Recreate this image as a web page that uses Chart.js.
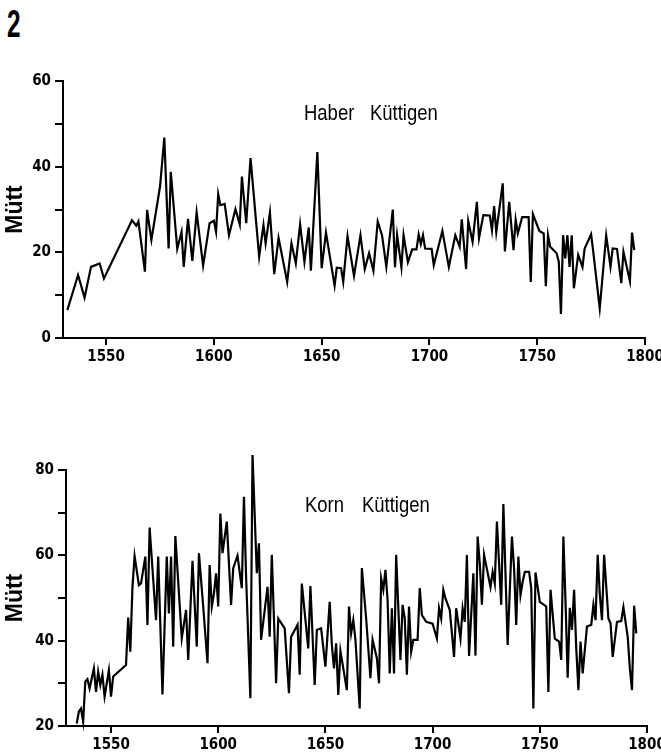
<!DOCTYPE html>
<html>
<head>
  <title>Haber und Korn Küttigen</title>
  <script src="https://cdn.jsdelivr.net/npm/chart.js"></script>
  <style>
    body { margin: 0; background: #fff; width: 661px; height: 755px; position: relative; overflow: hidden; font-family: 'Liberation Sans', Arial, sans-serif; }
    canvas { position: absolute; left: 0; }
    .txt { position: absolute; color: #000; line-height: 1; white-space: nowrap; transform-origin: left top; }
    .fig { font-size: 38px; font-weight: bold; transform: scaleX(0.64); }
    .head { font-size: 22px; transform: scaleX(0.84); }
  </style>
</head>
<body>
  <div class="txt fig" style="left:7px; top:5px;">2</div>

  <canvas id="haberChart" width="661" height="330" style="top:50px;"></canvas>
  <div class="txt head" style="left:304px; top:102px;">Haber</div>
  <div class="txt head" style="left:370px; top:102px;">Küttigen</div>

  <canvas id="kornChart" width="661" height="315" style="top:440px;"></canvas>
  <div class="txt head" style="left:305px; top:494px;">Korn</div>
  <div class="txt head" style="left:362px; top:494px;">Küttigen</div>

  <script>
    // --- Haber (oats), Küttigen ---
    const haberYears = [
      1532, 1537, 1540, 1543, 1547, 1549, 1562, 1564, 1565, 1568, 1569, 1571, 1575, 1577, 1579, 1580,
      1583, 1585, 1586, 1588, 1590, 1592, 1595, 1598, 1600, 1601, 1602, 1603, 1605, 1607, 1610, 1612,
      1613, 1615, 1617, 1621, 1623, 1624, 1626, 1628, 1630, 1634, 1636, 1638, 1640, 1642, 1644, 1645,
      1648, 1650, 1652, 1656, 1657, 1659, 1660, 1662, 1665, 1668, 1670, 1672, 1674, 1676, 1678, 1680,
      1683, 1684, 1685, 1687, 1688, 1690, 1692, 1694, 1695, 1696, 1697, 1698, 1701, 1702, 1706, 1709,
      1712, 1714, 1715, 1717, 1718, 1720, 1722, 1723, 1725, 1728, 1729, 1730, 1731, 1734, 1735, 1737,
      1739, 1740, 1741, 1743, 1746, 1747, 1748, 1751, 1753, 1754, 1755, 1756, 1759, 1760, 1761, 1762,
      1763, 1764, 1765, 1766, 1767, 1769, 1771, 1772, 1775, 1776, 1779, 1782, 1784, 1785, 1787, 1789,
      1790, 1793, 1794, 1795
    ];
    const haberValues = [
      6.5, 14.7, 9.4, 16.6, 17.4, 13.9, 27.5, 26.2, 27.2, 15.5, 29.9, 22.9, 35.3, 46.8, 20.9, 38.8,
      20.8, 24.8, 16.6, 27.8, 18, 29.3, 16.9, 26.8, 27.4, 24.8, 33.6, 31, 31.3, 24, 30.1, 26.5,
      37.7, 26.8, 42, 19, 26.4, 22.1, 29.3, 14.9, 23.4, 13.1, 22.1, 17.4, 26.6, 17.8, 25.8, 15.7,
      43.4, 16.3, 24.6, 12.2, 16.4, 16.3, 13.1, 23.8, 14.5, 24, 16.1, 19.8, 15.7, 27.2, 24, 16.6,
      30, 16.5, 24, 16.5, 24, 17.7, 20.7, 20.7, 24.2, 21.9, 24, 20.9, 20.8, 17, 25, 16.6,
      24, 21.3, 27.7, 16.1, 27.3, 22.5, 31.8, 23.3, 28.7, 28.6, 25.2, 30.8, 24.7, 36.1, 20.2, 31.8,
      20.5, 27.6, 24.4, 28.2, 28.2, 13.1, 28.9, 25, 24.4, 12.1, 24, 21.3, 19.8, 17.8, 5.6, 24,
      18.6, 24, 16.6, 24, 11.6, 19.4, 16.6, 20.9, 24.2, 20.1, 6.9, 23.9, 16.6, 20.9, 20.8, 12.8,
      20.1, 13.3, 24.6, 20.5
    ];

    // --- Korn (spelt), Küttigen ---
    const kornYears = [
      1534, 1535, 1536, 1537, 1538, 1539, 1540, 1542, 1543, 1544, 1545, 1546, 1547, 1549, 1550, 1551,
      1557, 1558, 1559, 1560, 1561, 1563, 1564, 1566, 1567, 1568, 1571, 1572, 1574, 1576, 1577, 1578,
      1579, 1580, 1583, 1585, 1586, 1588, 1590, 1591, 1593, 1595, 1596, 1597, 1598, 1599, 1600, 1601,
      1602, 1604, 1606, 1607, 1609, 1611, 1612, 1613, 1615, 1616, 1618, 1619, 1620, 1623, 1624, 1625,
      1627, 1628, 1631, 1633, 1634, 1637, 1638, 1639, 1642, 1643, 1645, 1646, 1648, 1650, 1652, 1653,
      1654, 1655, 1656, 1657, 1660, 1661, 1662, 1663, 1664, 1666, 1667, 1669, 1671, 1672, 1674, 1675,
      1676, 1677, 1678, 1679, 1680, 1681, 1682, 1683, 1685, 1686, 1687, 1688, 1689, 1690, 1691, 1693,
      1694, 1695, 1697, 1700, 1702, 1703, 1704, 1705, 1706, 1708, 1710, 1711, 1713, 1714, 1715, 1716,
      1717, 1719, 1720, 1721, 1722, 1723, 1724, 1727, 1728, 1729, 1730, 1732, 1733, 1735, 1737, 1738,
      1739, 1740, 1741, 1742, 1743, 1745, 1746, 1747, 1748, 1750, 1752, 1753, 1754, 1755, 1757, 1759,
      1760, 1761, 1762, 1763, 1764, 1765, 1766, 1767, 1768, 1769, 1770, 1772, 1774, 1775, 1776, 1777,
      1778, 1779, 1780, 1782, 1783, 1784, 1786, 1788, 1789, 1791, 1792, 1793, 1794, 1795
    ];
    const kornValues = [
      20.6, 23.4, 24.1, 21, 30.4, 31, 28.8, 33.5, 28, 32.7, 29.6, 32, 26.9, 33.1, 26.9, 31.6,
      34.3, 45.4, 37.4, 52.6, 59.8, 53, 53.4, 59.7, 43.7, 66.5, 44.8, 59.7, 27.4, 59.7, 46.4, 59.7,
      38.6, 64.5, 40.6, 47.2, 35.5, 58.7, 38.6, 60.5, 48, 34.7, 57.7, 48, 51, 55.8, 48, 69.8,
      60.5, 67.9, 48.4, 57, 59.9, 52.3, 73.7, 55, 26.5, 83.5, 55.8, 62.8, 40.2, 52.6, 40.9, 60.1,
      30, 45.2, 42.9, 27.7, 40.9, 43.7, 32, 53.4, 38.2, 52.8, 29.6, 42.5, 42.9, 33.9, 49.1, 39,
      33.5, 39.4, 27.3, 37.6, 28.4, 48, 41.7, 44.8, 40.2, 24.1, 57, 45.2, 31.2, 40.2, 35.9, 30,
      54.6, 51.9, 56.6, 49.5, 32.3, 47.6, 32.3, 60.1, 35.5, 48.4, 45.2, 32, 48, 37.4, 40.2, 40.2,
      52.3, 46, 44.4, 44, 40.5, 47.6, 45.2, 51.9, 49.9, 47.2, 36.2, 47.6, 40.5, 47.6, 44.4, 60.1,
      36.4, 55.8, 36.5, 64.4, 58.1, 48.4, 60.1, 52.6, 56.1, 53.4, 67.9, 48.4, 72, 39, 64.4, 57,
      43.7, 59.7, 50.7, 53.8, 56.1, 56.1, 52.3, 24.1, 56, 49.1, 48.4, 48, 28, 51.9, 40.5, 39.8,
      35.5, 64.4, 49.1, 31.3, 47.7, 42.5, 51.9, 38.2, 28.4, 39.8, 32.3, 43.3, 43.7, 48.4, 44.8, 60.1,
      50.7, 44.8, 60.1, 45.2, 44.1, 36.2, 44.4, 44.6, 47.8, 40.9, 33.5, 28.4, 48.2, 41.7
    ];

    // --- Axis ticks ---
    const yearTicks = [1550, 1600, 1650, 1700, 1750, 1800];
    const haberTicks = [0, 10, 20, 30, 40, 50, 60];
    const haberLabels = [0, 20, 40, 60];
    const kornTicks = [20, 30, 40, 50, 60, 70, 80];
    const kornLabels = [20, 40, 60, 80];

    const tickFont = { family: "'Liberation Sans Narrow', 'DejaVu Sans Condensed', 'Liberation Sans', sans-serif", size: 15, weight: 'bold' };
    const titleFont = { family: "'Liberation Sans', Arial, sans-serif", size: 23, weight: 'bold' };

    function makeChart(id, years, values, o) {
      const points = years.map((y, i) => ({ x: y, y: values[i] }));
      return new Chart(document.getElementById(id), {
        type: 'line',
        data: {
          datasets: [{
            data: points,
            borderColor: '#000',
            borderWidth: 2.2,
            pointRadius: 0,
            tension: 0,
            fill: false,
            clip: false
          }]
        },
        options: {
          responsive: false,
          animation: false,
          layout: { padding: { top: o.padTop, right: o.padRight, left: 0, bottom: 0 } },
          plugins: { legend: { display: false }, tooltip: { enabled: false } },
          scales: {
            x: {
              type: 'linear',
              min: o.xMin,
              max: 1800,
              afterBuildTicks: s => { s.ticks = yearTicks.map(v => ({ value: v })); },
              afterFit: s => { s.height = o.xHeight; s.paddingLeft = 0; s.paddingRight = 0; },
              border: { color: '#000', width: 2 },
              grid: { drawOnChartArea: false, drawTicks: true, tickLength: 7, color: '#000', lineWidth: 2 },
              ticks: { color: '#000', font: tickFont, padding: 3, maxRotation: 0, autoSkip: false, callback: v => String(v) }
            },
            y: {
              type: 'linear',
              min: o.yMin,
              max: o.yMax,
              afterBuildTicks: s => { s.ticks = o.yTicks.map(v => ({ value: v })); },
              afterFit: s => { s.width = o.yWidth; s.paddingTop = 0; s.paddingBottom = 0; },
              border: { color: '#000', width: 2 },
              grid: { drawOnChartArea: false, drawTicks: true, tickLength: 8, color: '#000', lineWidth: 2 },
              ticks: {
                color: '#000', font: tickFont, padding: 4, autoSkip: false,
                callback: v => o.yLabels.includes(v) ? String(v) : ''
              },
              title: { display: true, text: 'Mütt', color: '#000', font: titleFont, padding: { top: 2, bottom: 0 } }
            }
          }
        }
      });
    }

    makeChart('haberChart', haberYears, haberValues, {
      xMin: 1530, yMin: 0, yMax: 60, yTicks: haberTicks, yLabels: haberLabels,
      padTop: 31, padRight: 16, xHeight: 42, yWidth: 63
    });

    makeChart('kornChart', kornYears, kornValues, {
      xMin: 1529, yMin: 20, yMax: 80, yTicks: kornTicks, yLabels: kornLabels,
      padTop: 30, padRight: 14, xHeight: 29, yWidth: 66
    });
  </script>
</body>
</html>
